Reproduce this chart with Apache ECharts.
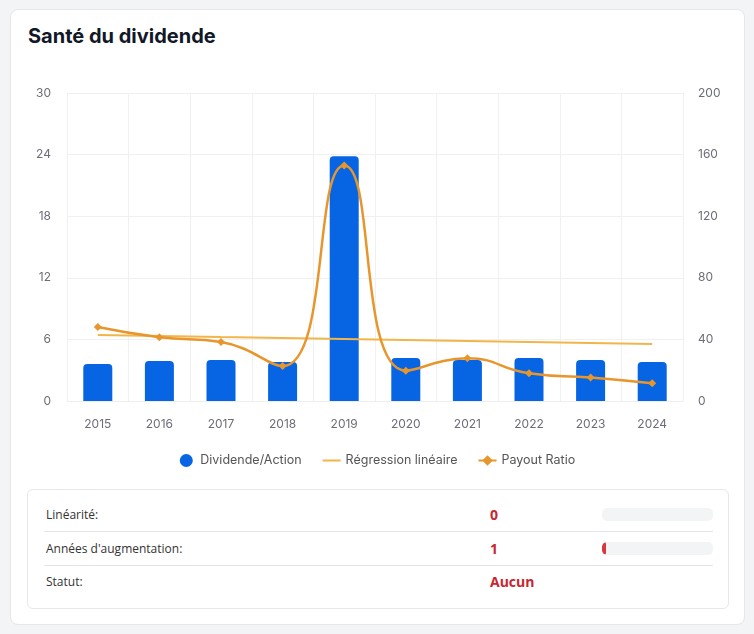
<!DOCTYPE html>
<html>
<head>
<meta charset="utf-8">
<script src="https://cdn.jsdelivr.net/npm/echarts@6/dist/echarts.min.js"></script>
<style>
  html, body { margin: 0; padding: 0; background: #f3f4f6; width: 754px; height: 634px; overflow: hidden; }
  .card { position: absolute; left: 10px; top: 9px; width: 733px; height: 614px; background: #fff; border: 1px solid #e5e7eb; border-radius: 8px; }
  .title { position: absolute; left: 17px; top: 14px; font-family: Inter, "Noto Sans", sans-serif; font-weight: 700; font-size: 20px; color: #111827; margin: 0; }
  #chart { position: absolute; left: 0; top: 50px; width: 733px; height: 420px; }
  .box { position: absolute; left: 16px; top: 479px; width: 700px; height: 118px; border: 1px solid #e5e7eb; border-radius: 6px; font-family: "Open Sans", sans-serif; }
  .row { position: absolute; left: 16px; width: 669px; height: 33px; }
  .row.sep { border-bottom: 1px solid #e2e4e8; }
  .lab { position: absolute; left: 2px; top: 8px; font-size: 12px; color: #333; }
  .val { position: absolute; left: 446px; top: 7px; font-size: 14px; font-weight: 700; color: #c8262e; }
  .bar { position: absolute; left: 558px; top: 10px; width: 111px; height: 13px; background: #f3f4f6; border-radius: 5px; overflow: hidden; }
  .fill { height: 100%; background: #d9363e; border-radius: 5px; }
</style>
</head>
<body>
<div class="card">
  <div class="title">Santé du dividende</div>
  <div id="chart"></div>
  <div class="box" id="box"></div>
</div>
<script>
const years = ['2015','2016','2017','2018','2019','2020','2021','2022','2023','2024'];
const dividend = [3.6, 3.9, 4.0, 3.8, 23.85, 4.2, 4.0, 4.2, 4.0, 3.8];
const regression = [6.43, 6.33, 6.23, 6.14, 6.04, 5.94, 5.84, 5.75, 5.65, 5.55];
const payout = [48, 41.4, 38.3, 22.7, 153, 19.7, 27.7, 18, 15.2, 11.5];
const leftTicks = { min: 0, max: 30, interval: 6 };
const rightTicks = { min: 0, max: 200, interval: 40 };
const statLabels = ['Linéarité:', "Années d'augmentation:", 'Statut:'];
const statValues = ['0', '1', 'Aucun'];
const statProgress = [0, 4, null];

const box = document.getElementById('box');
statLabels.forEach((l, i) => {
  const r = document.createElement('div');
  r.className = 'row' + (i < 2 ? ' sep' : '');
  r.style.top = (8 + i * 33.5) + 'px';
  let html = '<div class="lab">' + l + '</div><div class="val">' + statValues[i] + '</div>';
  if (statProgress[i] !== null) {
    html += '<div class="bar"><div class="fill" style="width:' + statProgress[i] + 'px"></div></div>';
  }
  r.innerHTML = html;
  box.appendChild(r);
});

const chart = echarts.init(document.getElementById('chart'), null, { renderer: 'canvas' });
const axisFont = { fontFamily: 'Inter, sans-serif', fontSize: 12, color: '#6b6e76' };
chart.setOption({
  animation: false,
  textStyle: { fontFamily: 'Inter, sans-serif' },
  grid: { left: 56, top: 33, width: 616, height: 308 },
  legend: {
    top: 389, left: 'center', itemGap: 20, itemWidth: 18, itemHeight: 13,
    textStyle: { fontFamily: 'Inter, sans-serif', fontSize: 12.5, color: '#555' },
    data: [
      { name: 'Dividende/Action', icon: 'circle' },
      { name: 'Régression linéaire', itemStyle: { opacity: 0 } },
      { name: 'Payout Ratio' }
    ]
  },
  xAxis: {
    type: 'category', data: years,
    axisLine: { show: true, lineStyle: { color: '#eeeeee' } },
    axisTick: { show: false },
    axisLabel: Object.assign({ margin: 17 }, axisFont),
    splitLine: { show: true, lineStyle: { color: '#f0f0f0' } }
  },
  yAxis: [
    Object.assign({ type: 'value', position: 'left',
      axisLine: { show: false }, axisTick: { show: false },
      axisLabel: Object.assign({ margin: 16 }, axisFont),
      splitLine: { show: true, lineStyle: { color: '#f0f0f0' } } }, leftTicks),
    Object.assign({ type: 'value', position: 'right',
      axisLine: { show: false }, axisTick: { show: false },
      axisLabel: Object.assign({ margin: 15 }, axisFont),
      splitLine: { show: false } }, rightTicks)
  ],
  series: [
    {
      name: 'Dividende/Action', type: 'bar', data: dividend, yAxisIndex: 0,
      barWidth: 29,
      itemStyle: { color: '#0765e3', borderRadius: [4, 4, 0, 0] }
    },
    {
      name: 'Régression linéaire', type: 'line', data: regression, yAxisIndex: 0,
      symbol: 'none', showSymbol: false,
      lineStyle: { color: '#f1b54a', width: 2 },
      itemStyle: { color: '#f1b54a' }
    },
    {
      name: 'Payout Ratio', type: 'line', data: payout, yAxisIndex: 1,
      smooth: true, symbol: 'diamond', symbolSize: 8,
      lineStyle: { color: '#e8962c', width: 2.5 },
      itemStyle: { color: '#e8962c' }
    }
  ]
});
</script>
</body>
</html>
